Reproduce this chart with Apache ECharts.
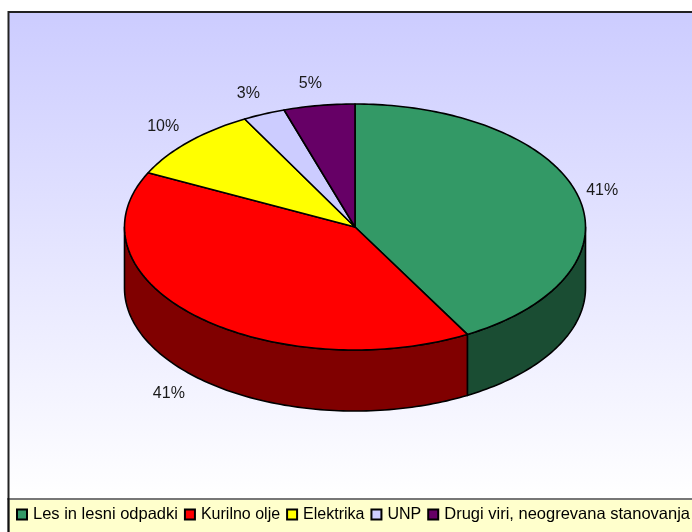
<!DOCTYPE html>
<html><head><meta charset="utf-8">
<style>html,body{margin:0;padding:0;background:#fff}#c{width:692px;height:532px}</style>
<script src="https://cdn.jsdelivr.net/npm/echarts@6/dist/echarts.min.js"></script>
</head><body><div id="c"></div>
<script>
const categories = ['Les in lesni odpadki','Kurilno olje','Elektrika','UNP','Drugi viri, neogrevana stanovanja'];
const values = [41, 41, 10, 3, 5];
const topColors = ['#339966','#FF0000','#FFFF00','#CCCCFF','#660066'];
const sideColors = ['#1A4D33','#800000','#808000','#666680','#330033'];

const cx = 355, cy = 227, rx = 230.5, ry = 123, depth = 61;
const skew = 3.5*Math.PI/180; // the view's perspective pushes the near side of the disc round slightly
const total = values.reduce((a,b)=>a+b,0);
const stroke = {stroke:'#000', lineWidth:1.6, lineJoin:'round'};
function view(a){ return a + skew*(1-Math.cos(a))/2; }
function pt(a, dy){ return [cx + rx*Math.sin(a), cy - ry*Math.cos(a) + (dy||0)]; }
function arc(a0, a1, dy){
  const n = Math.max(2, Math.ceil(Math.abs(a1-a0)/0.02)), out = [];
  for(let i=0;i<=n;i++) out.push(pt(a0+(a1-a0)*i/n, dy));
  return out;
}
function makeSeries(i){
  const before = values.slice(0,i).reduce((a,b)=>a+b,0);
  const t0 = before/total*2*Math.PI, t1 = (before+values[i])/total*2*Math.PI;
  const a0 = view(t0), a1 = view(t1), mid = view((t0+t1)/2);
  return {
    type:'custom', name:categories[i], coordinateSystem:'none', z:2+i,
    itemStyle:{color:topColors[i], borderColor:'#000', borderWidth:1.5},
    data:[[values[i]]],
    silent:true,
    renderItem(){
      const children = [];
      const s0 = Math.max(a0, Math.PI/2), s1 = Math.min(a1, 1.5*Math.PI);
      if(s1 > s0){
        const pts = arc(s0,s1,0).concat(arc(s1,s0,depth));
        children.push({type:'polygon', shape:{points:pts}, style:Object.assign({fill:sideColors[i]},stroke)});
      }
      const topPts = [[cx,cy]].concat(arc(a0,a1,0));
      children.push({type:'polygon', shape:{points:topPts}, style:Object.assign({fill:topColors[i]},stroke)});
      const lx = cx-4+(rx+29.5)*Math.sin(mid);
      let ly = cy+1-(ry+23)*Math.cos(mid);
      if(Math.cos(mid)<0) ly += depth;
      children.push({type:'text', style:{x:lx, y:ly, text:values[i]+'%', fill:'#1a1a1a',
        font:'16px "Liberation Sans", Arial, sans-serif', align:'center', verticalAlign:'middle'}});
      return {type:'group', children};
    }
  };
}
const chart = echarts.init(document.getElementById('c'), null, {renderer:'canvas'});
chart.setOption({
  animation:false,
  backgroundColor:'#fff',
  graphic:[
    {type:'rect', z:0, shape:{x:8.5,y:12,width:700,height:487},
     style:{fill:new echarts.graphic.LinearGradient(0,0,0,1,[{offset:0,color:'#CCCCFF'},{offset:1,color:'#FFFFFF'}]),stroke:'#222',lineWidth:2}},
    {type:'rect', z:1, shape:{x:8.5,y:499,width:700,height:50},
     style:{fill:'#FFFFCC',stroke:'#777',lineWidth:2}},
    {type:'line', z:1, shape:{x1:8.5,y1:498,x2:8.5,y2:532}, style:{stroke:'#111',lineWidth:2}}
  ],
  legend:{
    left:16, top:506, width:900, itemWidth:10, itemHeight:10, itemGap:6, icon:'rect', padding:0,
    textStyle:{fontFamily:'"Liberation Sans", Arial, sans-serif', fontSize:16, color:'#000', padding:[0,0,0,1]},
    selectedMode:false,
    data:categories.map((name,i) => (i === 0 || i === 4) ? {name, textStyle:{fontSize:16.5}} : {name})
  },
  series:categories.map((_,i)=>makeSeries(i))
});
</script></body></html>
